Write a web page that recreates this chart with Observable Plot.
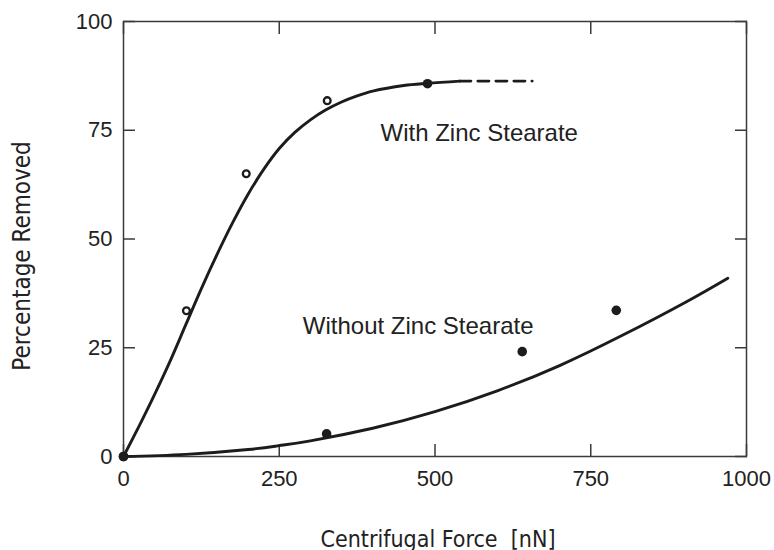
<!DOCTYPE html>
<html><head><meta charset="utf-8">
<script src="https://cdn.jsdelivr.net/npm/d3@7"></script>
<script src="https://cdn.jsdelivr.net/npm/@observablehq/plot@0.6"></script>
<style>
body{margin:0;background:#fff}
svg{font-family:"Liberation Sans",Arial,sans-serif}
</style>
</head><body><div id="chart"></div>
<script>
// measured points
const withX = [0, 101, 197, 327, 488];
const withY = [0, 33.5, 65, 81.8, 85.7];
const withFilled = [true, false, false, false, true];
const withoutX = [0, 326, 640, 791];
const withoutY = [0, 5.2, 24.1, 33.6];
// fitted curves
const withCurveX = [0, 25, 50, 75, 100, 125, 150, 175, 200, 225, 250, 275, 300, 325, 350, 375, 400, 450, 488, 540];
const withCurveY = [0, 7, 14.3, 22, 30.3, 38.6, 46.4, 53.7, 60.3, 66, 70.8, 74.5, 77.4, 79.7, 81.5, 82.9, 84, 85.3, 85.8, 86.3];
const dashX = [540, 656];
const dashY = [86.3, 86.3];
const withoutCurveX = [0, 100, 200, 250, 300, 400, 500, 600, 700, 800, 900, 970];
const withoutCurveY = [0, 0.5, 1.6, 2.5, 3.6, 6.5, 10.3, 15.1, 20.9, 27.8, 35.3, 41];
const xTicks = [0, 250, 500, 750, 1000];
const yTicks = [0, 25, 50, 75, 100];
const labels = [
  {x: 571, y: 74.3, text: "With Zinc Stearate"},
  {x: 473, y: 29.9, text: "Without Zinc Stearate"}
];
const xTitle = "Centrifugal Force  [nN]";
const yTitle = "Percentage Removed";

const pts = withX.map((x, i) => ({x, y: withY[i], filled: withFilled[i]}));
const pts2 = withoutX.map((x, i) => ({x, y: withoutY[i]}));
const c1 = withCurveX.map((x, i) => ({x, y: withCurveY[i]}));
const c2 = withoutCurveX.map((x, i) => ({x, y: withoutCurveY[i]}));
const d1 = dashX.map((x, i) => ({x, y: dashY[i]}));

const ink = "#1c1c1c";
const blank = () => "";
const titleFont = "'DejaVu Sans Condensed', 'DejaVu Sans', sans-serif";
const chart = Plot.plot({
  width: 774, height: 550,
  marginLeft: 123, marginRight: 28, marginTop: 21, marginBottom: 94,
  x: {domain: [0, 1000]},
  y: {domain: [0, 100]},
  style: {fontSize: "22px", color: "#222"},
  marks: [
    Plot.frame({stroke: "#3a3a3a", strokeWidth: 1.5}),
    Plot.axisX(xTicks, {anchor: "bottom", tickSize: -12, tickFormat: blank, label: null, stroke: "#3a3a3a", strokeWidth: 1.5}),
    Plot.axisX(xTicks, {anchor: "top", tickSize: -12, tickFormat: blank, label: null, stroke: "#3a3a3a", strokeWidth: 1.5}),
    Plot.axisY(yTicks, {anchor: "left", tickSize: -12, tickFormat: blank, label: null, stroke: "#3a3a3a", strokeWidth: 1.5}),
    Plot.axisY(yTicks, {anchor: "right", tickSize: -12, tickFormat: blank, label: null, stroke: "#3a3a3a", strokeWidth: 1.5}),
    Plot.axisX(xTicks, {anchor: "bottom", tickSize: 0, tickPadding: 14, tickFormat: d => String(d), label: null, fontSize: 22, fill: "#222"}),
    Plot.axisY(yTicks, {anchor: "left", tickSize: 0, tickPadding: 11, tickFormat: d => String(d), label: null, fontSize: 22, fill: "#222"}),
    Plot.line(c1, {x: "x", y: "y", curve: "catmull-rom", stroke: ink, strokeWidth: 2.9}),
    Plot.line(d1, {x: "x", y: "y", stroke: ink, strokeWidth: 2.9, strokeDasharray: "11,7"}),
    Plot.line(c2, {x: "x", y: "y", curve: "natural", stroke: ink, strokeWidth: 2.9}),
    Plot.dot(pts.filter(d => !d.filled), {x: "x", y: "y", r: 3.4, stroke: ink, strokeWidth: 2.3, fill: "white"}),
    Plot.dot(pts.filter(d => d.filled), {x: "x", y: "y", r: 4.8, fill: ink, stroke: "none"}),
    Plot.dot(pts2, {x: "x", y: "y", r: 4.8, fill: ink, stroke: "none"}),
    Plot.text(labels, {x: "x", y: "y", text: "text", fontSize: 24, fill: "#222"}),
    Plot.text([xTitle], {frameAnchor: "bottom", dx: 3, dy: 90, fontSize: 23, fontFamily: titleFont, fill: "#222"}),
    Plot.text([yTitle], {frameAnchor: "left", textAnchor: "middle", lineAnchor: "middle", rotate: -90, dx: -101, dy: 17, fontSize: 24, fontFamily: titleFont, fill: "#222"})
  ]
});
document.getElementById("chart").appendChild(chart);
</script>
</body></html>
